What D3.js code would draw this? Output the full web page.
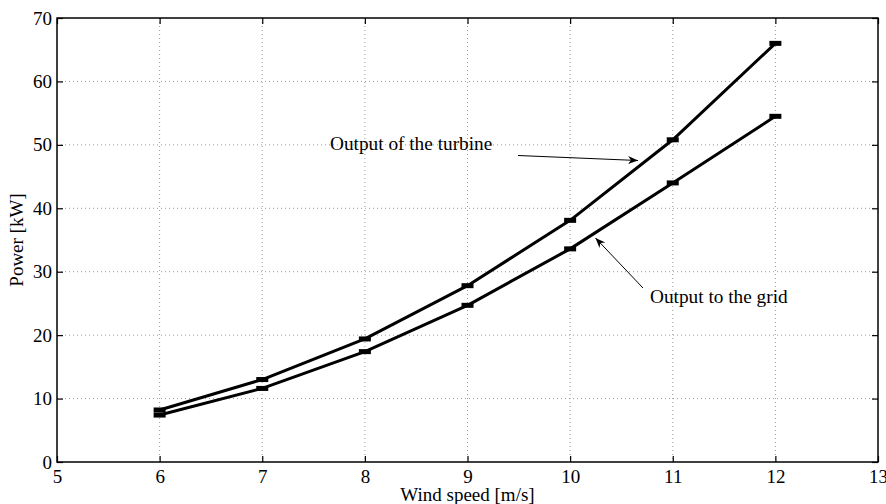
<!DOCTYPE html>
<html>
<head>
<meta charset="utf-8">
<script src="https://cdn.jsdelivr.net/npm/d3@7/dist/d3.min.js"></script>
<style>
  html, body { margin: 0; padding: 0; background: #fff; }
  svg, svg text { font-family: "Liberation Serif", "Times New Roman", serif; }
  svg { display: block; }
</style>
</head>
<body>
<svg id="chart" width="886" height="504"></svg>
<script>
// Wind speed [m/s] and power [kW]
const windSpeed = [6, 7, 8, 9, 10, 11, 12];
const turbineOutput = [8.2, 13.0, 19.4, 27.8, 38.1, 50.8, 66.0];
const gridOutput = [7.4, 11.6, 17.4, 24.7, 33.6, 44.0, 54.5];
const xTicks = [5, 6, 7, 8, 9, 10, 11, 12, 13];
const yTicks = [0, 10, 20, 30, 40, 50, 60, 70];

const serif = "'Liberation Serif', 'Times New Roman', serif";
const svg = d3.select("#chart");
const m = { left: 57, right: 878, top: 18, bottom: 462 };

const x = d3.scaleLinear().domain([5, 13]).range([m.left, m.right]);
const y = d3.scaleLinear().domain([0, 70]).range([m.bottom, m.top]);

// dotted grid
const grid = svg.append("g");
grid.selectAll("line.gx").data(xTicks.slice(1, -1)).join("line")
  .attr("x1", d => x(d)).attr("x2", d => x(d))
  .attr("y1", m.top).attr("y2", m.bottom)
  .attr("stroke", "#9a9a9a").attr("stroke-width", 1).attr("stroke-dasharray", "1,3");
grid.selectAll("line.gy").data(yTicks.slice(1, -1)).join("line")
  .attr("y1", d => y(d)).attr("y2", d => y(d))
  .attr("x1", m.left).attr("x2", m.right)
  .attr("stroke", "#9a9a9a").attr("stroke-width", 1).attr("stroke-dasharray", "1,3");

// axes with inward ticks on all four sides
const tick = 6;
const axB = svg.append("g").attr("transform", `translate(0,${m.bottom})`)
  .call(d3.axisBottom(x).tickValues(xTicks).tickSize(-tick).tickPadding(tick + 2).tickFormat(d3.format("d")));
const axT = svg.append("g").attr("transform", `translate(0,${m.top})`)
  .call(d3.axisTop(x).tickValues(xTicks).tickSize(-tick).tickFormat(""));
const axL = svg.append("g").attr("transform", `translate(${m.left},0)`)
  .call(d3.axisLeft(y).tickValues(yTicks).tickSize(-tick).tickPadding(tick - 1).tickFormat(d3.format("d")));
const axR = svg.append("g").attr("transform", `translate(${m.right},0)`)
  .call(d3.axisRight(y).tickValues(yTicks).tickSize(-tick).tickFormat(""));

[axB, axT, axL, axR].forEach(a => {
  a.attr("font-family", serif).attr("font-size", 19);
  a.select(".domain").remove();
  a.selectAll(".tick line").attr("stroke", "#000").attr("stroke-width", 1.2);
  a.selectAll("text").attr("fill", "#000")
    .style("font-family", serif).style("font-size", "19px");
});

// axes box
svg.append("rect")
  .attr("x", m.left).attr("y", m.top)
  .attr("width", m.right - m.left).attr("height", m.bottom - m.top)
  .attr("fill", "none").attr("stroke", "#000").attr("stroke-width", 1.5);

// curves
const line = d3.line().x((d, i) => x(windSpeed[i])).y(d => y(d));
[turbineOutput, gridOutput].forEach(series => {
  svg.append("path").datum(series)
    .attr("d", line).attr("fill", "none")
    .attr("stroke", "#000").attr("stroke-width", 3).attr("stroke-linejoin", "round");
  svg.append("g").selectAll("rect").data(series).join("rect")
    .attr("x", (d, i) => x(windSpeed[i]) - 6)
    .attr("y", d => y(d) - 2.5)
    .attr("width", 12).attr("height", 5)
    .attr("fill", "#000");
});

// axis titles
svg.append("text")
  .attr("x", (m.left + m.right) / 2).attr("y", 501)
  .attr("text-anchor", "middle").style("font-size", "19px")
  .text("Wind speed [m/s]");
svg.append("text")
  .attr("transform", `translate(23,${(m.top + m.bottom) / 2}) rotate(-90)`)
  .attr("text-anchor", "middle").style("font-size", "19px")
  .text("Power [kW]");

// arrow head marker
svg.append("defs").append("marker")
  .attr("id", "arrow").attr("viewBox", "0 0 10 10")
  .attr("refX", 10).attr("refY", 5)
  .attr("markerWidth", 10).attr("markerHeight", 10)
  .attr("markerUnits", "userSpaceOnUse")
  .attr("orient", "auto")
  .append("path").attr("d", "M0,1 L10,5 L0,9 L3,5 Z").attr("fill", "#000");

// annotations
svg.append("text").attr("x", 330).attr("y", 150)
  .style("font-size", "19.3px").text("Output of the turbine");
svg.append("line")
  .attr("x1", 518).attr("y1", 155.5).attr("x2", 638).attr("y2", 160.5)
  .attr("stroke", "#000").attr("stroke-width", 1).attr("marker-end", "url(#arrow)");

svg.append("text").attr("x", 650).attr("y", 302.5)
  .style("font-size", "19.3px").text("Output to the grid");
svg.append("line")
  .attr("x1", 643).attr("y1", 288).attr("x2", 595.5).attr("y2", 238)
  .attr("stroke", "#000").attr("stroke-width", 1).attr("marker-end", "url(#arrow)");
</script>
</body>
</html>
